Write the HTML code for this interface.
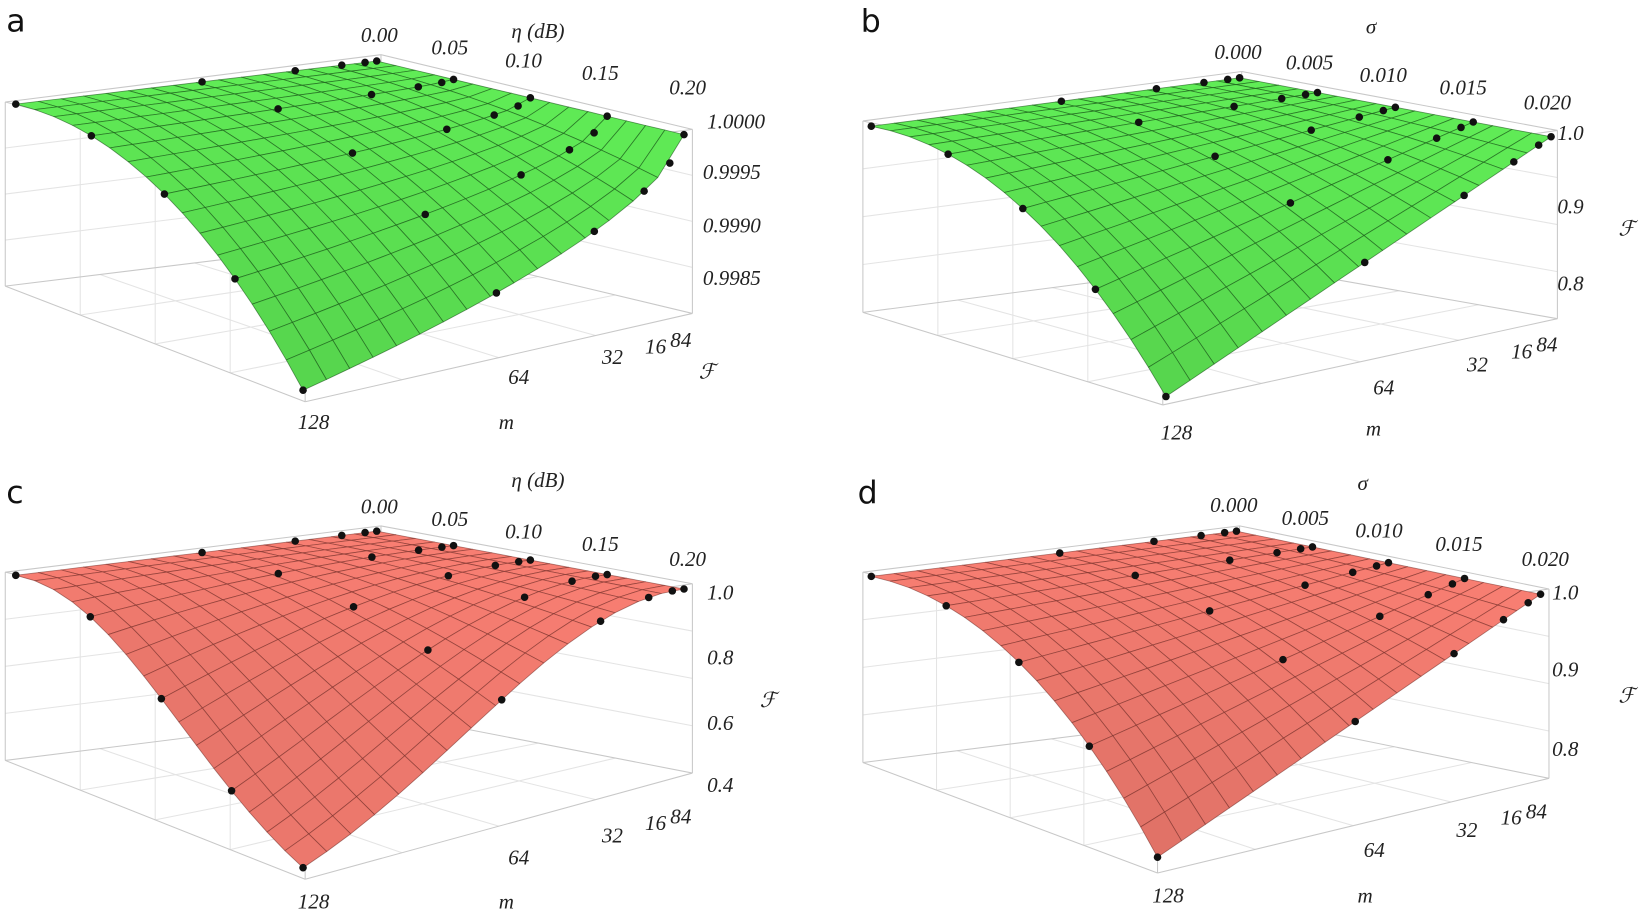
<!DOCTYPE html>
<html><head><meta charset="utf-8">
<style>
html,body{margin:0;padding:0;background:#fff;}
svg{display:block;}
.t{font-family:"Liberation Serif",serif;font-style:italic;font-size:20px;fill:#222;}
.L{font-family:"DejaVu Sans","Liberation Sans",sans-serif;font-size:30px;fill:#111;}
.box{stroke:#c8c8c8;stroke-width:1;fill:none;}
.gr{stroke:#e4e4e4;stroke-width:1;fill:none;}
</style></head><body>
<svg id="s" width="1650" height="914" viewBox="0 0 1568 869" preserveAspectRatio="none" xmlns="http://www.w3.org/2000/svg">
<g id="boxes"></g>
<g id="surf"></g>
<text class="L" x="6" y="30">a</text>
<text class="L" x="818" y="30">b</text>
<text class="L" x="6" y="478">c</text>
<text class="L" x="815" y="478">d</text>
<!-- a -->
<text class="t" x="486" y="36">η (dB)</text>
<text class="t" x="343" y="40">0.00</text>
<text class="t" x="410" y="52">0.05</text>
<text class="t" x="480" y="64">0.10</text>
<text class="t" x="553" y="76">0.15</text>
<text class="t" x="636" y="90">0.20</text>
<text class="t" x="672" y="122">1.0000</text>
<text class="t" x="668" y="170">0.9995</text>
<text class="t" x="668" y="221">0.9990</text>
<text class="t" x="668" y="271">0.9985</text>
<text class="t" x="664" y="360">ℱ</text>
<text class="t" x="283" y="408">128</text>
<text class="t" x="483" y="365">64</text>
<text class="t" x="572" y="346">32</text>
<text class="t" x="613" y="336">16</text>
<text class="t" x="637" y="330">84</text>
<text class="t" x="474" y="408">m</text>
<!-- b -->
<text class="t" x="1298" y="32">σ</text>
<text class="t" x="1154" y="56">0.000</text>
<text class="t" x="1222" y="66">0.005</text>
<text class="t" x="1292" y="78">0.010</text>
<text class="t" x="1368" y="90">0.015</text>
<text class="t" x="1448" y="104">0.020</text>
<text class="t" x="1480" y="133">1.0</text>
<text class="t" x="1480" y="203">0.9</text>
<text class="t" x="1480" y="276">0.8</text>
<text class="t" x="1538" y="224">ℱ</text>
<text class="t" x="1103" y="418">128</text>
<text class="t" x="1305" y="375">64</text>
<text class="t" x="1394" y="353">32</text>
<text class="t" x="1436" y="341">16</text>
<text class="t" x="1460" y="334">84</text>
<text class="t" x="1298" y="414">m</text>
<!-- c -->
<text class="t" x="486" y="463">η (dB)</text>
<text class="t" x="343" y="488">0.00</text>
<text class="t" x="410" y="500">0.05</text>
<text class="t" x="480" y="512">0.10</text>
<text class="t" x="553" y="524">0.15</text>
<text class="t" x="636" y="538">0.20</text>
<text class="t" x="672" y="570">1.0</text>
<text class="t" x="672" y="632">0.8</text>
<text class="t" x="672" y="694">0.6</text>
<text class="t" x="672" y="753">0.4</text>
<text class="t" x="722" y="672">ℱ</text>
<text class="t" x="283" y="864">128</text>
<text class="t" x="483" y="822">64</text>
<text class="t" x="572" y="801">32</text>
<text class="t" x="613" y="789">16</text>
<text class="t" x="637" y="783">84</text>
<text class="t" x="474" y="864">m</text>
<!-- d -->
<text class="t" x="1290" y="466">σ</text>
<text class="t" x="1150" y="487">0.000</text>
<text class="t" x="1218" y="499">0.005</text>
<text class="t" x="1288" y="511">0.010</text>
<text class="t" x="1364" y="524">0.015</text>
<text class="t" x="1446" y="538">0.020</text>
<text class="t" x="1475" y="570">1.0</text>
<text class="t" x="1475" y="643">0.9</text>
<text class="t" x="1475" y="719">0.8</text>
<text class="t" x="1538" y="668">ℱ</text>
<text class="t" x="1095" y="858">128</text>
<text class="t" x="1296" y="815">64</text>
<text class="t" x="1384" y="796">32</text>
<text class="t" x="1426" y="784">16</text>
<text class="t" x="1450" y="778">84</text>
<text class="t" x="1290" y="858">m</text>
</svg>
<script>
(function(){
var NS="http://www.w3.org/2000/svg";
var surf=document.getElementById("surf"), boxes=document.getElementById("boxes");
function el(p,tag,a){var e=document.createElementNS(NS,tag);for(var k in a)e.setAttribute(k,a[k]);p.appendChild(e);return e;}
function line(p,a,b,c){el(p,"line",{x1:a[0],y1:a[1],x2:b[0],y2:b[1],"class":c});}
function panel(o){
  var B=o.B,R=o.R,L=o.L,F=o.F;
  var fF=[L[0]+R[0]-B[0],L[1]+R[1]-B[1]];
  var D=[F[0]-fF[0],F[1]-fF[1]];
  function P(u,v){var g=o.g(u,v);return [B[0]+u*(R[0]-B[0])+v*(L[0]-B[0])+g*D[0], B[1]+u*(R[1]-B[1])+v*(L[1]-B[1])+g*D[1]];}
  var bx=o.box, gb=el(boxes,"g",{});
  for(var i=1;i<4;i++){var t=i/4;
    line(gb,[bx.Lt[0],bx.Lt[1]+(bx.Lb[1]-bx.Lt[1])*t],[bx.Bt[0],bx.Bt[1]+(bx.Bb[1]-bx.Bt[1])*t],"gr");
    line(gb,[bx.Bt[0],bx.Bt[1]+(bx.Bb[1]-bx.Bt[1])*t],[bx.Rt[0],bx.Rt[1]+(bx.Rb[1]-bx.Rt[1])*t],"gr");
    var x1=bx.Lb[0]+(bx.Fb[0]-bx.Lb[0])*t,y1=bx.Lb[1]+(bx.Fb[1]-bx.Lb[1])*t;
    var x2=bx.Bb[0]+(bx.Rb[0]-bx.Bb[0])*t,y2=bx.Bb[1]+(bx.Rb[1]-bx.Bb[1])*t;
    line(gb,[x1,y1],[x2,y2],"gr");
    line(gb,[x1,y1],[x1,y1-(bx.Lb[1]-bx.Lt[1])],"gr");
    var x3=bx.Fb[0]+(bx.Rb[0]-bx.Fb[0])*t,y3=bx.Fb[1]+(bx.Rb[1]-bx.Fb[1])*t;
    var x4=bx.Lb[0]+(bx.Bb[0]-bx.Lb[0])*t,y4=bx.Lb[1]+(bx.Bb[1]-bx.Lb[1])*t;
    line(gb,[x3,y3],[x4,y4],"gr");
  }
  [["Lt","Bt"],["Bt","Rt"],["Lb","Fb"],["Fb","Rb"],["Lb","Bb"],["Bb","Rb"],["Lt","Lb"],["Rt","Rb"],["Bt","Bb"],["Fb","Ft"],["Lt","Ft"],["Ft","Rt"]].forEach(function(p){line(gb,bx[p[0]],bx[p[1]],"box");});
  var g=el(surf,"g",{}), N=16, q=[];
  for(var i=0;i<N;i++)for(var j=0;j<N;j++)q.push([i,j]);
  q.sort(function(a,b){return (a[0]+a[1])-(b[0]+b[1]);});
  q.forEach(function(c){
    var u0=c[0]/N,u1=(c[0]+1)/N,v0=c[1]/N,v1=(c[1]+1)/N;
    var pts=[P(u0,v0),P(u1,v0),P(u1,v1),P(u0,v1)];
    var um=(u0+u1)/2,vm=(v0+v1)/2;
    var du=(o.g(Math.min(1,um+0.02),vm)-o.g(Math.max(0,um-0.02),vm))/0.04;
    var s=Math.max(0.86,1-0.05*du);
    var col=o.col.map(function(x){return Math.round(x*s);});
    el(g,"polygon",{points:pts.map(function(p){return p[0].toFixed(1)+","+p[1].toFixed(1);}).join(" "),fill:"rgb("+col.join(",")+")",stroke:o.line,"stroke-width":0.8,"stroke-linejoin":"round"});
  });
  var us=[0,0.25,0.5,0.75,1], vs=[128,64,32,16,8,4].map(function(m){return (m-4)/124;});
  us.forEach(function(u){vs.forEach(function(v){var p=P(u,v);el(g,"circle",{cx:p[0],cy:p[1],r:3.6,fill:"#111"});});});
}
function gA(u,v){return u*u*Math.pow(v,0.6);}
function gB(u,v){return u*u*v;}
function gC(u,v){return (1-Math.exp(-1.5*u*u*v*v))/(1-Math.exp(-1.5));}
var green=[96,236,86], red=[248,126,114];
panel({L:[15,99],B:[358,58],R:[650,128],F:[288,371],g:gA,col:green,line:"rgba(20,80,20,0.6)",
  box:{Lt:[5,97],Bt:[362,52],Rt:[658,123],Ft:[290,170],Lb:[5,272],Bb:[365,228],Rb:[658,298],Fb:[290,382]}});
panel({L:[828,120],B:[1178,74],R:[1474,130],F:[1108,377],g:gB,col:green,line:"rgba(20,80,20,0.6)",
  box:{Lt:[820,115],Bt:[1180,68],Rt:[1480,124],Ft:[1105,178],Lb:[820,297],Bb:[1180,250],Rb:[1480,303],Fb:[1105,385]}});
panel({L:[15,547],B:[358,505],R:[650,560],F:[288,825],g:gC,col:red,line:"rgba(110,40,35,0.55)",
  box:{Lt:[5,544],Bt:[362,500],Rt:[658,555],Ft:[290,610],Lb:[5,723],Bb:[365,678],Rb:[658,735],Fb:[290,836]}});
panel({L:[828,548],B:[1175,505],R:[1464,565],F:[1100,815],g:gB,col:red,line:"rgba(110,40,35,0.55)",
  box:{Lt:[820,544],Bt:[1178,500],Rt:[1472,560],Ft:[1100,612],Lb:[820,725],Bb:[1178,680],Rb:[1472,740],Fb:[1100,830]}});
})();
</script>
</body></html>
